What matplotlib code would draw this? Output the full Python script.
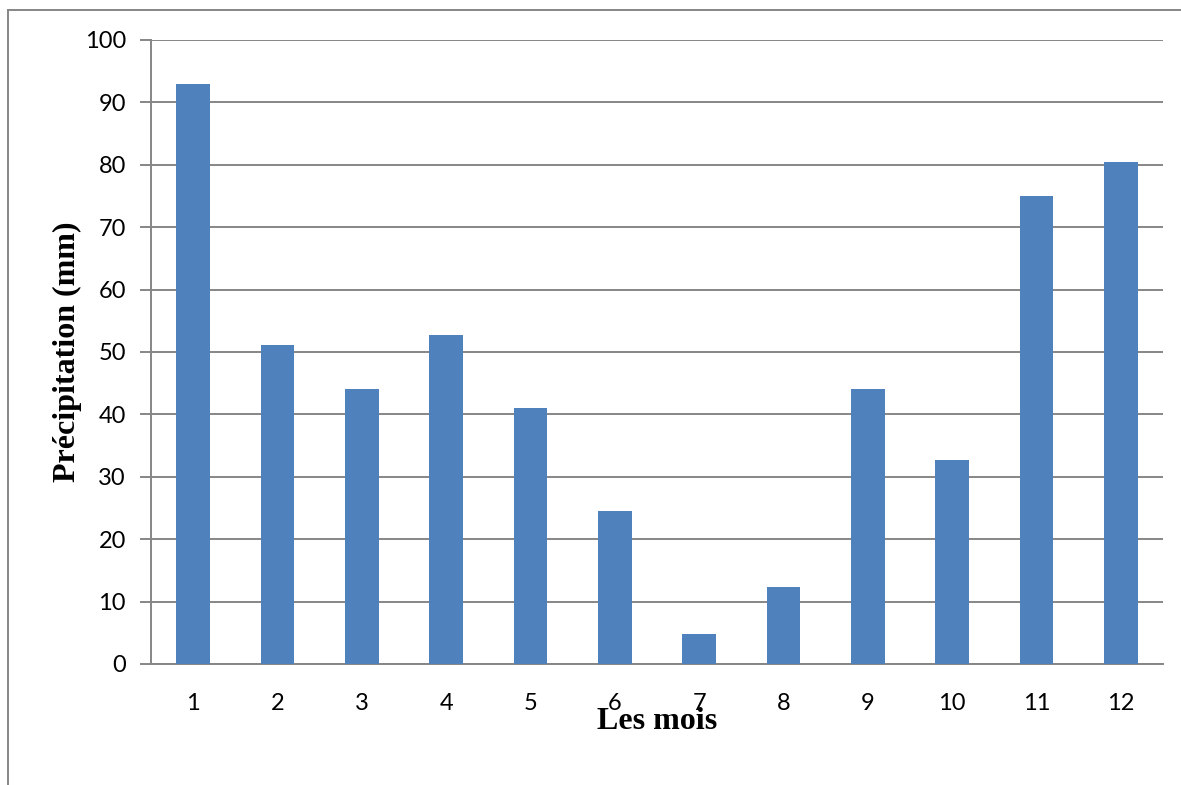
import matplotlib
matplotlib.use('Agg')
import matplotlib.pyplot as plt
from matplotlib.lines import Line2D

# monthly precipitation (mm)
months = ['1', '2', '3', '4', '5', '6', '7', '8', '9', '10', '11', '12']
precip = [93.0, 51.1, 44.1, 52.7, 41.0, 24.5, 4.8, 12.3, 44.1, 32.7, 75.0, 80.4]
yticks = [0, 10, 20, 30, 40, 50, 60, 70, 80, 90, 100]

bar_color = '#4F81BD'
grid_color = '#868686'

fig = plt.figure(figsize=(11.81, 7.85), dpi=100)
ax = fig.add_axes([151 / 1181, 1 - 664 / 785, (1163 - 151) / 1181, (664 - 40) / 785])

x = list(range(len(months)))
ax.bar(x, precip, width=0.40, color=bar_color, zorder=3)

ax.set_xlim(-0.5, len(months) - 0.5)
ax.set_ylim(0, 100)
ax.set_yticks(yticks)
ax.set_xticks(x)
ax.set_xticklabels(months)

ax.grid(axis='y', color=grid_color, linewidth=1.4, zorder=0)
for s in ['top', 'right']:
    ax.spines[s].set_visible(False)
for s in ['left', 'bottom']:
    ax.spines[s].set_color(grid_color)
    ax.spines[s].set_linewidth(1.4)

ax.tick_params(axis='y', length=8, width=1.4, color=grid_color, pad=10,
               labelsize=17)
ax.tick_params(axis='x', length=0, pad=21, labelsize=17)
for lab in ax.get_xticklabels() + ax.get_yticklabels():
    lab.set_fontfamily('Lato')

ax.set_xlabel('Les mois', fontfamily='Liberation Serif', fontweight='bold',
              fontsize=23, labelpad=-5)
ax.set_ylabel('Précipitation (mm)', fontfamily='Liberation Serif',
              fontweight='bold', fontsize=23, labelpad=2)

# outer frame (only top and left visible)
fx = 8 / 1181
fy = 1 - 10 / 785
fig.add_artist(Line2D([fx, 1], [fy, fy], color=grid_color, linewidth=1.4,
                      transform=fig.transFigure))
fig.add_artist(Line2D([fx, fx], [0, fy], color=grid_color, linewidth=1.4,
                      transform=fig.transFigure))

fig.savefig('out.png', dpi=100)
